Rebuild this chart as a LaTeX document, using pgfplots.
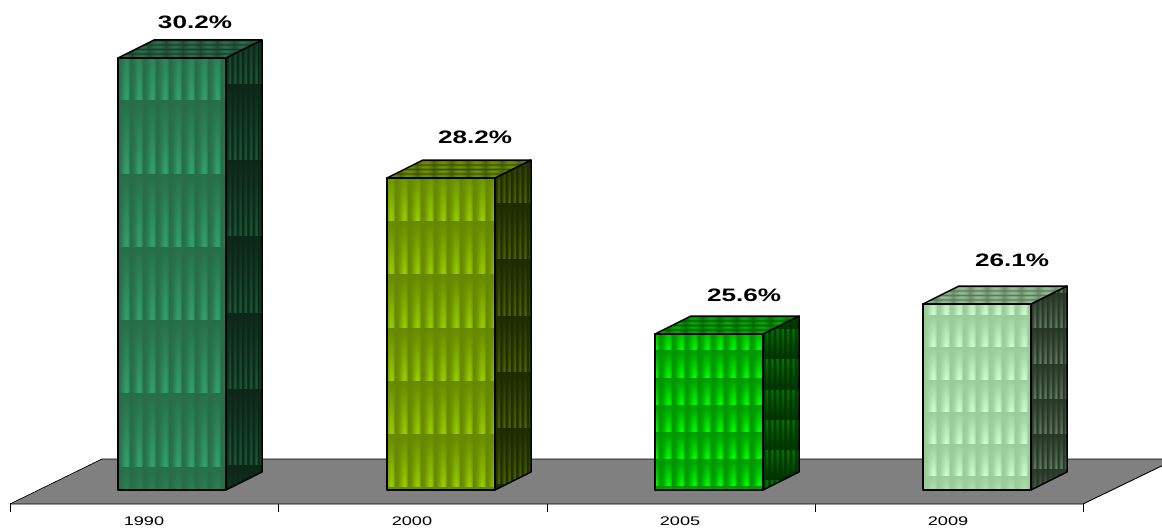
\documentclass[border=0pt]{standalone}
\usepackage{fontspec}
\setmainfont{Liberation Sans}
\usepackage{pgfplots}
\pgfplotsset{compat=1.18}

% tile textures: the args are pixel positions in the reference
% #1 name, #2 xleft, #3 width, #4 ytop, #5 height, #6 x phase, #7 x period, #8 y phase, #9 y period
% \flip is an optional snippet that turns the tile upside down
\def\setcols#1#2#3#4#5#6{\def\rd{#1}\def\rz{#2}\def\gd{#3}\def\gz{#4}\def\bd{#5}\def\bz{#6}}
\def\flip{}
\newcommand\tileshade[9]{%
  \edef\tmpdecl{\noexpand\pgfdeclarefunctionalshading{#1}{\noexpand\pgfpointorigin}{\noexpand\pgfpoint{100bp}{100bp}}{}{%
    75 exch sub 50 div #5 mul #4 add #8 sub #9 div dup floor sub \flip\space
    dup mul sqrt exch
    25 sub 50 div #3 mul #2 add #6 sub #7 div dup floor sub
    dup mul 180 mul sin mul
    dup \rd\space mul \rz\space add exch dup \gd\space mul \gz\space add exch \bd\space mul \bz\space add}}%
  \tmpdecl}
% top faces have thin horizontal stripes inside wider cells
\newcommand\topshade[9]{%
  \edef\tmpdecl{\noexpand\pgfdeclarefunctionalshading{#1}{\noexpand\pgfpointorigin}{\noexpand\pgfpoint{100bp}{100bp}}{}{%
    75 exch sub 50 div #5 mul #4 add #8 sub #9 div dup floor sub
    180 mul sin exch
    25 sub 50 div #3 mul #2 add #6 sub #7 div dup floor sub
    180 mul sin .5 mul .25 add mul
    dup \rd\space mul \rz\space add exch dup \gd\space mul \gz\space add exch \bd\space mul \bz\space add}}%
  \tmpdecl}

% 1990
\setcols{.05}{.153}{.2}{.431}{.14}{.282}
\tileshade{fa}{118}{108}{58}{432}{130}{13}{100}{73.2}
\setcols{.063}{.047}{.2}{.149}{.125}{.094}
\tileshade{sa}{226}{36}{40}{450}{226}{5.3}{84}{76}
\setcols{.09}{.098}{.27}{.235}{.18}{.165}
\topshade{ta}{118}{144}{40}{18}{149}{17}{40}{4.5}
% 2000
\setcols{.2}{.4}{.27}{.533}{0}{0}
\tileshade{fb}{387}{108}{178}{312}{395}{13}{221}{53}
\setcols{.18}{.118}{.23}{.165}{0}{0}
\tileshade{sb}{495}{36}{160}{330}{495}{5.3}{203}{56}
\setcols{.27}{.235}{.35}{.314}{0}{0}
\topshade{tb}{387}{144}{160}{18}{417}{17}{160}{4.5}
% 2005
\setcols{0}{0}{.41}{.59}{0}{0}
\tileshade{fc}{655}{108}{334}{156}{659}{13}{350}{27}
\setcols{0}{0}{.29}{.196}{0}{0}
\def\flip{1 exch sub}
\tileshade{sc}{763}{36}{316}{174}{763}{5.3}{359}{30}
\def\flip{}
\setcols{0}{0}{.43}{.35}{0}{0}
\topshade{tc}{655}{144}{316}{18}{685}{17}{316}{4.5}
% 2009
\setcols{.2}{.6}{.2}{.8}{.2}{.6}
\tileshade{fd}{923}{108}{304}{186}{937}{13}{315}{32}
\setcols{.24}{.15}{.27}{.216}{.24}{.15}
\tileshade{sd}{1031}{36}{286}{204}{1031}{5.3}{328}{35}
\setcols{.31}{.353}{.37}{.47}{.31}{.353}
\topshade{td}{923}{144}{286}{18}{953}{17}{286}{4.5}

\newcommand\lab[1]{\scalebox{1.45}[1]{\fontsize{12.5}{13}\selectfont #1}}
\newcommand\val[1]{\scalebox{1.45}[1]{\fontsize{18}{18}\selectfont\bfseries #1}}

\begin{document}
\begin{tikzpicture}
\begin{axis}[
  scale only axis, width=1162pt, height=527pt,
  xmin=0, xmax=1162, ymin=22.38333, ymax=31.16667,
  hide axis, clip=true,
  every axis plot/.append style={line join=round, mark=none},
]
% keeps the whole frame in the page
\path (axis cs:0,22.38333) rectangle (axis cs:1162,31.16667);
% floor
\addplot[fill=black!50, draw=none] coordinates {(10,22.7667) (102,23.5167) (1176,23.5167) (1083,22.7667)} -- cycle;
\addplot[black, line width=.7pt] coordinates {(10,22.7667) (102,23.5167) (1176,23.5167)};
\addplot[black, line width=.9pt] coordinates {(1176,23.5167) (1083,22.7667) (10,22.7667)};
% category ticks
\addplot[black, line width=.8pt] coordinates {(10,22.7667) (10,22.6333)};
\addplot[black, line width=.8pt] coordinates {(278,22.7667) (278,22.6333)};
\addplot[black, line width=.8pt] coordinates {(547,22.7667) (547,22.6333)};
\addplot[black, line width=.8pt] coordinates {(815,22.7667) (815,22.6333)};
\addplot[black, line width=.8pt] coordinates {(1083,22.7667) (1083,22.6333)};

% 1990: 30.2
\addplot[shading=sa, draw=black, line width=1.5pt] coordinates {(226,30.2) (262,30.5) (262,23.3) (226,23)} -- cycle;
\addplot[shading=ta, draw=black, line width=1.5pt] coordinates {(118,30.2) (154,30.5) (262,30.5) (226,30.2)} -- cycle;
\addplot[shading=fa, draw=black, line width=1.5pt] coordinates {(118,23) (118,30.2) (226,30.2) (226,23)} -- cycle;
% 2000: 28.2
\addplot[shading=sb, draw=black, line width=1.5pt] coordinates {(495,28.2) (531,28.5) (531,23.3) (495,23)} -- cycle;
\addplot[shading=tb, draw=black, line width=1.5pt] coordinates {(387,28.2) (423,28.5) (531,28.5) (495,28.2)} -- cycle;
\addplot[shading=fb, draw=black, line width=1.5pt] coordinates {(387,23) (387,28.2) (495,28.2) (495,23)} -- cycle;
% 2005: 25.6
\addplot[shading=sc, draw=black, line width=1.5pt] coordinates {(763,25.6) (799,25.9) (799,23.3) (763,23)} -- cycle;
\addplot[shading=tc, draw=black, line width=1.5pt] coordinates {(655,25.6) (691,25.9) (799,25.9) (763,25.6)} -- cycle;
\addplot[shading=fc, draw=black, line width=1.5pt] coordinates {(655,23) (655,25.6) (763,25.6) (763,23)} -- cycle;
% 2009: 26.1
\addplot[shading=sd, draw=black, line width=1.5pt] coordinates {(1031,26.1) (1067,26.4) (1067,23.3) (1031,23)} -- cycle;
\addplot[shading=td, draw=black, line width=1.5pt] coordinates {(923,26.1) (959,26.4) (1067,26.4) (1031,26.1)} -- cycle;
\addplot[shading=fd, draw=black, line width=1.5pt] coordinates {(923,23) (923,26.1) (1031,26.1) (1031,23)} -- cycle;

% value labels
\node at (axis cs:195,30.8) {\val{30.2\%}};
\node at (axis cs:475,28.87) {\val{28.2\%}};
\node at (axis cs:744,26.25) {\val{25.6\%}};
\node at (axis cs:1012,26.83) {\val{26.1\%}};
% category labels
\node at (axis cs:144,22.483) {\lab{1990}};
\node at (axis cs:412,22.483) {\lab{2000}};
\node at (axis cs:680,22.483) {\lab{2005}};
\node at (axis cs:948,22.483) {\lab{2009}};
\end{axis}
\end{tikzpicture}
\end{document}
